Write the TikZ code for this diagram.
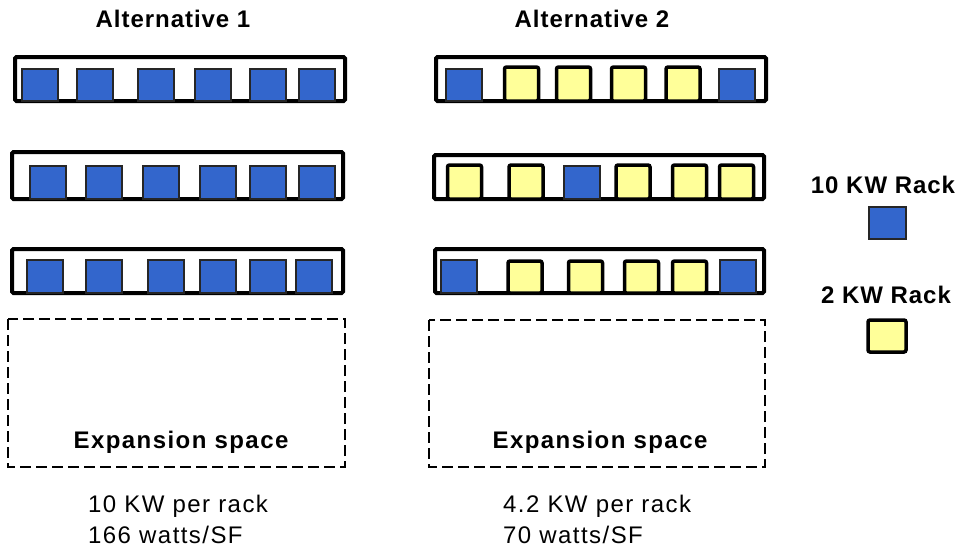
\documentclass[tikz,border=0pt]{standalone}
\usepackage{fontspec}
\setmainfont{Liberation Sans}[LetterSpace=4]
\newfontfamily\widefont{Liberation Sans}[LetterSpace=6]
\definecolor{rackblue}{HTML}{3366CC}
\definecolor{rackyellow}{HTML}{FFFF99}
\tikzset{
  rackframe/.style={draw=black, line width=4pt, rounded corners=1.5pt},
  bluesq/.style={draw=black!85, fill=rackblue, line width=2pt},
  yellowsq/.style={draw=black, fill=rackyellow, line width=3.5pt, rounded corners=2pt},
  expbox/.style={draw=black, line width=2pt, dash pattern=on 11pt off 5pt},
  title/.style={font=\fontsize{24}{30}\selectfont\bfseries, anchor=base, inner sep=0pt},
  exptxt/.style={font=\widefont\fontsize{24}{30}\selectfont\bfseries, anchor=base, inner sep=0pt},
  bodytxt/.style={font=\widefont\fontsize{24}{30}\selectfont, anchor=base west, inner sep=0pt}
}
\begin{document}
\begin{tikzpicture}[x=1pt, y=-1pt]
\useasboundingbox (0,0) rectangle (960,550);
% titles
\node[title] (t1) at (173,27) {Alternative 1};
\node[title] (t2) at (592,27) {Alternative 2};
% Alternative 1 racks
\draw[rackframe] (15,57) rectangle (345,101);
\foreach \x in {40,94.5,156,212.5,267.5,317}
  \draw[bluesq] (\x-18,69) rectangle (\x+18,101);
\draw[rackframe] (12,152) rectangle (343,199);
\foreach \x in {47.5,104,161,217.5,267.5,316.5}
  \draw[bluesq] (\x-18,166) rectangle (\x+18,199);
\draw[rackframe] (12,249) rectangle (343,293);
\foreach \x in {44.5,104,165.5,217.5,267.5,314}
  \draw[bluesq] (\x-18,260) rectangle (\x+18,293);
% Alternative 2 racks
\draw[rackframe] (436,57) rectangle (766,101);
\foreach \x in {464,737}
  \draw[bluesq] (\x-18,69) rectangle (\x+18,101);
\foreach \x in {521.5,573.5,628.5,683}
  \draw[yellowsq] (\x-17,67) rectangle (\x+17,101);
\draw[rackframe] (434,155) rectangle (764,199);
\foreach \x in {582}
  \draw[bluesq] (\x-18,166) rectangle (\x+18,199);
\foreach \x in {464.5,526,633,689.5,736.5}
  \draw[yellowsq] (\x-17,165) rectangle (\x+17,199);
\draw[rackframe] (435,249) rectangle (764,293);
\foreach \x in {458.5,738}
  \draw[bluesq] (\x-18,260) rectangle (\x+18,293);
\foreach \x in {525,585.5,641.5,689.5}
  \draw[yellowsq] (\x-17,261) rectangle (\x+17,293);
% expansion spaces
\draw[expbox] (8,319) rectangle (345,467);
\draw[expbox] (429,320) rectangle (765,467);
\node[exptxt] (e1) at (181,448) {Expansion space};
\node[exptxt] (e2) at (600,448) {Expansion space};
% bottom text
\node[bodytxt] (b1a) at (88,512) {10 KW per rack};
\node[bodytxt] (b1b) at (88,543) {166 watts/SF};
\node[bodytxt] (b2a) at (503,512) {4.2 KW per rack};
\node[bodytxt] (b2b) at (503,543) {70 watts/SF};
% legend
\node[title] (l1) at (883,193) {10 KW Rack};
\draw[bluesq] (869,207) rectangle (906,239);
\node[title] (l2) at (886,303) {2 KW Rack};
\draw[yellowsq] (868,320) rectangle (906,352);
\end{tikzpicture}
\end{document}
